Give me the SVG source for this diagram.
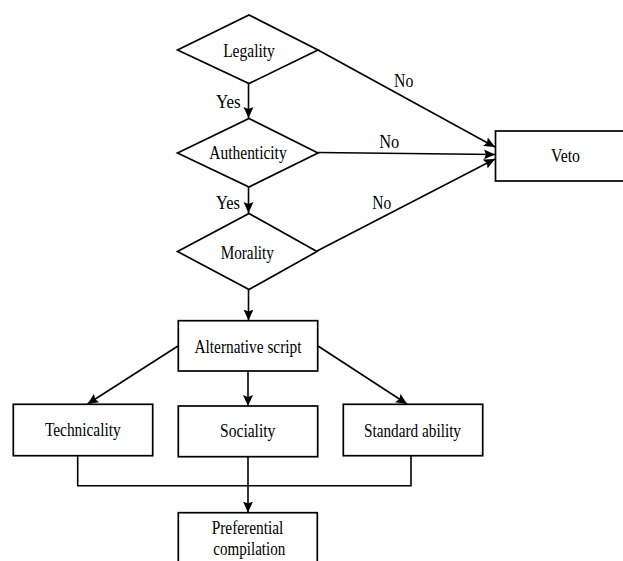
<svg xmlns="http://www.w3.org/2000/svg" width="623" height="561" viewBox="0 0 623 561" font-family="'Liberation Serif', 'DejaVu Serif', serif">
<style>
.shape{fill:#fff;stroke:#000;stroke-width:1.7}
.conn{fill:none;stroke:#000;stroke-width:1.6}
text{font-family:'Liberation Serif','DejaVu Serif',serif;font-size:18px;fill:#000;text-anchor:middle}
</style>
<defs>
<marker id="arr" markerUnits="userSpaceOnUse" markerWidth="13" markerHeight="11" refX="11" refY="5" orient="auto">
<path d="M0,0 L11,5 L0,10 L2,5 z" fill="#000"/>
</marker>
</defs>
<rect width="623" height="561" fill="#fff"/>
<g id="connectors">
<path class="conn" d="M248.5,83.5 V118" marker-end="url(#arr)"/>
<path class="conn" d="M248.5,187 V213" marker-end="url(#arr)"/>
<path class="conn" d="M248.5,289.5 V320.5" marker-end="url(#arr)"/>
<path class="conn" d="M318,50 L495,147" marker-end="url(#arr)"/>
<path class="conn" d="M318,152.5 L495,154.5" marker-end="url(#arr)"/>
<path class="conn" d="M317,251 L495,159" marker-end="url(#arr)"/>
<path class="conn" d="M178,346 L87.5,404" marker-end="url(#arr)"/>
<path class="conn" d="M248,371 V406" marker-end="url(#arr)"/>
<path class="conn" d="M318,346 L407,404" marker-end="url(#arr)"/>
<path class="conn" d="M77.7,456 V485.7 H411 V456"/>
<path class="conn" d="M248,457 V512.5" marker-end="url(#arr)"/>
<text x="228.3" y="108.3" textLength="24.7" lengthAdjust="spacingAndGlyphs">Yes</text>
<text x="228" y="209.3" textLength="24" lengthAdjust="spacingAndGlyphs">Yes</text>
<text x="403.7" y="87.3" textLength="19.3" lengthAdjust="spacingAndGlyphs">No</text>
<text x="389.3" y="148.3" textLength="20" lengthAdjust="spacingAndGlyphs">No</text>
<text x="381.8" y="209" textLength="19" lengthAdjust="spacingAndGlyphs">No</text>
</g>
<g id="legality">
<polygon class="shape" points="177.5,50 249,15 318,50 249,83.5"/>
<text x="249" y="57.3" textLength="51.7" lengthAdjust="spacingAndGlyphs">Legality</text>
</g>
<g id="authenticity">
<polygon class="shape" points="177.5,153 249,118.5 318,153 249,187"/>
<text x="248" y="159.3" textLength="77.3" lengthAdjust="spacingAndGlyphs">Authenticity</text>
</g>
<g id="morality">
<polygon class="shape" points="177.5,251.5 249,213.5 317,251.5 249,289.5"/>
<text x="247.3" y="259.3" textLength="53.3" lengthAdjust="spacingAndGlyphs">Morality</text>
</g>
<g id="veto">
<rect class="shape" x="495.5" y="131" width="130" height="50"/>
<text x="565.5" y="162.3" textLength="29" lengthAdjust="spacingAndGlyphs">Veto</text>
</g>
<g id="alternative-script">
<rect class="shape" x="178.3" y="320.7" width="139.4" height="50.3"/>
<text x="248" y="352.7" textLength="107" lengthAdjust="spacingAndGlyphs">Alternative script</text>
</g>
<g id="technicality">
<rect class="shape" x="13.3" y="404.3" width="139.4" height="51.4"/>
<text x="82.8" y="436" textLength="75.7" lengthAdjust="spacingAndGlyphs">Technicality</text>
</g>
<g id="sociality">
<rect class="shape" x="178.3" y="406" width="139.4" height="50.7"/>
<text x="247.7" y="437" textLength="55.3" lengthAdjust="spacingAndGlyphs">Sociality</text>
</g>
<g id="standard-ability">
<rect class="shape" x="343.3" y="404.3" width="139.4" height="51.4"/>
<text x="412.5" y="436.7" textLength="97" lengthAdjust="spacingAndGlyphs">Standard ability</text>
</g>
<g id="preferential-compilation">
<rect class="shape" x="178.3" y="512.7" width="139" height="60"/>
<text x="247.5" y="534.3" textLength="71.7" lengthAdjust="spacingAndGlyphs">Preferential</text>
<text x="249.3" y="555" textLength="72" lengthAdjust="spacingAndGlyphs">compilation</text>
</g>
</svg>
